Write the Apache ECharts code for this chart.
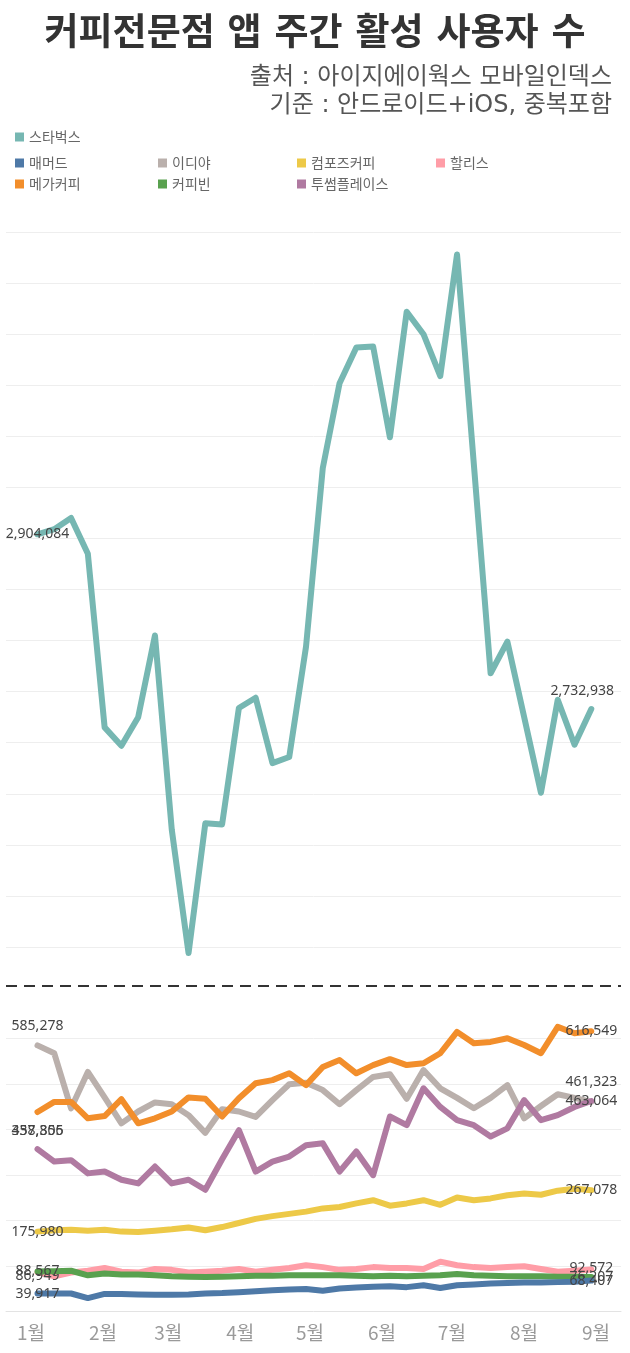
<!DOCTYPE html>
<html>
<head>
<meta charset="utf-8">
<script src="https://cdn.jsdelivr.net/npm/echarts@6/dist/echarts.min.js"></script>
<style>
  html, body { margin: 0; padding: 0; background: #ffffff; }
  #chart { width: 630px; height: 1353px; }
</style>
</head>
<body>
<div id="chart"></div>
<script>
// ---------------- data ----------------
const weeks = ['1/4','1/11','1/18','1/25','2/1','2/8','2/15','2/22','3/1','3/8','3/15','3/22','3/29',
  '4/5','4/12','4/19','4/26','5/3','5/10','5/17','5/24','5/31','6/7','6/14','6/21','6/28',
  '7/5','7/12','7/19','7/26','8/2','8/9','8/16','8/23'];
const months = ['1월','2월','3월','4월','5월','6월','7월','8월','9월','10월','11월','12월'];

const starbucks = [2904084, 2909000, 2920000, 2885000, 2715000, 2697000, 2725000, 2805000, 2615000, 2494000,
  2621000, 2620000, 2734000, 2744000, 2680000, 2686000, 2794000, 2969000, 3052000, 3087000,
  3088000, 2999000, 3122000, 3100000, 3059000, 3178000, 2973000, 2768000, 2799000, 2725000,
  2651000, 2742000, 2698000, 2732938];
const mammoth = [39917, 40000, 40000, 30000, 39000, 39000, 38000, 37000, 37000, 38000,
  40000, 41000, 43000, 45000, 47000, 49000, 50000, 46000, 51000, 53000,
  55000, 56000, 54000, 58000, 52000, 58000, 60000, 62000, 63000, 64000,
  64000, 65000, 66000, 68407];
const ediya = [585278, 568000, 447000, 527000, 471000, 414000, 440000, 460000, 456000, 432000,
  393000, 445000, 440000, 428000, 465000, 500000, 503000, 487000, 456000, 487000,
  516000, 522000, 468000, 531000, 491000, 470000, 447000, 470000, 498000, 425000,
  452000, 478000, 470000, 461323];
const compose = [175980, 179000, 180000, 178000, 180000, 176000, 175000, 178000, 181000, 185000,
  179000, 186000, 195000, 204000, 210000, 215000, 220000, 227000, 230000, 238000,
  245000, 233000, 238000, 245000, 235000, 251000, 245000, 249000, 256000, 260000,
  257000, 266000, 270000, 267078];
const hollys = [86949, 78000, 86000, 90000, 96000, 88000, 86000, 94000, 92000, 86000,
  88000, 90000, 94000, 88000, 92000, 96000, 102000, 98000, 92000, 94000,
  98000, 96000, 96000, 94000, 110000, 102000, 98000, 96000, 98000, 100000,
  94000, 88000, 90000, 92572];
const mega = [438855, 461000, 461000, 425000, 430000, 467000, 414000, 425000, 440000, 471000,
  468000, 429000, 469000, 502000, 509000, 524000, 498000, 538000, 553000, 524000,
  542000, 555000, 542000, 546000, 568000, 615000, 590000, 593000, 601000, 586000,
  568000, 626000, 612000, 616549];
const coffeebean = [88567, 89000, 90000, 80000, 84000, 82000, 82000, 80000, 78000, 77000,
  76000, 77000, 78000, 79000, 79000, 80000, 80000, 80000, 80000, 79000,
  78000, 79000, 78000, 79000, 80000, 83000, 80000, 79000, 78000, 78000,
  78000, 77000, 77000, 76207];
const twosome = [357306, 330000, 333000, 304000, 308000, 290000, 282000, 319000, 282000, 290000,
  268000, 335000, 399000, 308000, 330000, 341000, 366000, 370000, 308000, 352000,
  300000, 429000, 410000, 491000, 450000, 421000, 410000, 385000, 403000, 465000,
  421000, 432000, 450000, 463064];

const BREAK_VALUE = 2462000; // dashed axis-break line in the upper panel

// ---------------- styling ----------------
const C = {
  starbucks: '#76b7b2', mammoth: '#4e79a7', ediya: '#bab0ac', compose: '#edc948',
  hollys: '#ff9da7', mega: '#f28e2b', coffeebean: '#59a14f', twosome: '#b07aa1'
};
const NUM_FONT = 'Noto Sans';
const KR_FONT = '"Noto Sans CJK KR", "Noto Sans", sans-serif';
const WIDE_KR_FONT = '"DejaVu Sans", "Noto Sans CJK KR", sans-serif';

function lineSeries(name, values, color, panel, startOff, endOff, z) {
  const last = values.length - 1;
  const data = values.map((v, i) => {
    const item = { value: [i, v] };
    if (i === 0 && startOff) item.label = { show: true, offset: startOff };
    if (i === last && endOff) item.label = { show: true, offset: endOff };
    return item;
  });
  return {
    name: name, type: 'line', xAxisIndex: panel, yAxisIndex: panel,
    data: data, symbol: 'circle', symbolSize: 0, showSymbol: true,
    lineStyle: { color: color, width: 6, cap: 'round', join: 'round' },
    itemStyle: { color: color },
    label: {
      show: false, position: 'inside',
      formatter: p => p.value[1].toLocaleString('en-US'),
      color: '#444', fontSize: 14, fontFamily: NUM_FONT
    },
    emphasis: { disabled: true },
    z: z
  };
}

const T0 = Date.UTC(2021, 0, 1) - 10.75 * 86400000;
const T1 = Date.UTC(2021, 8, 1) + 10.75 * 86400000;
const XMIN = -1.877, XMAX = 34.77;

const legendBase = {
  icon: 'rect', itemWidth: 9, itemHeight: 9, itemGap: 7, orient: 'vertical',
  selectedMode: false,
  textStyle: { color: '#666', fontSize: 14, fontFamily: KR_FONT }
};

const sb = lineSeries('스타벅스', starbucks, C.starbucks, 0, [0, 0], [-9, -18], 2);
sb.markLine = {
  silent: true, symbol: ['none', 'none'], label: { show: false },
  lineStyle: { color: '#333', width: 2, type: [11, 7] },
  data: [{ yAxis: BREAK_VALUE }]
};

const option = {
  animation: false,
  useUTC: true,
  backgroundColor: '#ffffff',
  title: [
    { text: '커피전문점 앱 주간 활성 사용자 수', left: 'center', top: 12,
      textStyle: { fontSize: 37, fontWeight: 'bold', color: '#333', fontFamily: WIDE_KR_FONT } },
    { text: '출처 : 아이지에이웍스 모바일인덱스', right: 13, top: 61,
      textStyle: { fontSize: 24, fontWeight: 'normal', color: '#555', fontFamily: WIDE_KR_FONT } },
    { text: '기준 : 안드로이드+iOS, 중복포함', right: 13, top: 89,
      textStyle: { fontSize: 24, fontWeight: 'normal', color: '#555', fontFamily: WIDE_KR_FONT } }
  ],
  legend: [
    Object.assign({}, legendBase, { data: ['스타벅스'], left: 10, top: 125 }),
    Object.assign({}, legendBase, { data: ['매머드', '메가커피'], left: 10, top: 151 }),
    Object.assign({}, legendBase, { data: ['이디야', '커피빈'], left: 153, top: 151 }),
    Object.assign({}, legendBase, { data: ['컴포즈커피', '투썸플레이스'], left: 292, top: 151 }),
    Object.assign({}, legendBase, { data: ['할리스'], left: 431, top: 151 })
  ],
  grid: [
    { left: 6, right: 9, top: 181, height: 817 },
    { left: 6, right: 9, top: 993.2, height: 318.5 }
  ],
  xAxis: [
    { type: 'value', gridIndex: 0, min: XMIN, max: XMAX, show: false },
    { type: 'value', gridIndex: 1, min: XMIN, max: XMAX, position: 'bottom',
      axisLine: { show: true, onZero: false, lineStyle: { color: '#e3e3e3', width: 1 } },
      axisTick: { show: false }, axisLabel: { show: false }, splitLine: { show: false } },
    { type: 'time', gridIndex: 1, min: T0, max: T1, position: 'bottom', splitNumber: 8,
      axisLine: { show: false }, axisTick: { show: false }, splitLine: { show: false },
      axisLabel: {
        color: '#9a9a9a', fontSize: 19, fontFamily: KR_FONT, margin: 12,
        showMinLabel: true, showMaxLabel: true, hideOverlap: false,
        formatter: function (val) {
          const d = new Date(val);
          if (d.getUTCDate() !== 1 || d.getUTCHours() !== 0) return '';
          return months[d.getUTCMonth()];
        }
      } }
  ],
  yAxis: [
    { type: 'value', gridIndex: 0, min: 2450000, max: 3250000, interval: 50000,
      axisLine: { show: false }, axisTick: { show: false }, axisLabel: { show: false },
      splitLine: { show: true, showMinLine: false, showMaxLine: false, lineStyle: { color: '#eeeeee', width: 1 } } },
    { type: 'value', gridIndex: 1, min: 0, max: 700000, interval: 100000,
      axisLine: { show: false }, axisTick: { show: false }, axisLabel: { show: false },
      splitLine: { show: true, showMinLine: false, showMaxLine: false, lineStyle: { color: '#eeeeee', width: 1 } } }
  ],
  series: [
    sb,
    lineSeries('할리스', hollys, C.hollys, 1, [0, 4], [0, -2], 2),
    lineSeries('이디야', ediya, C.ediya, 1, [0, -19], [0, -20], 3),
    lineSeries('투썸플레이스', twosome, C.twosome, 1, [0, -18], [0, 0], 4),
    lineSeries('메가커피', mega, C.mega, 1, [0, 19], [0, 0], 5),
    lineSeries('컴포즈커피', compose, C.compose, 1, [0, 0], [0, 0], 6),
    lineSeries('커피빈', coffeebean, C.coffeebean, 1, [0, 0], [0, 0], 7),
    lineSeries('매머드', mammoth, C.mammoth, 1, [0, 0], [0, 0], 8)
  ]
};

const chart = echarts.init(document.getElementById('chart'), null, { renderer: 'canvas', width: 630, height: 1353 });
chart.setOption(option);
</script>
</body>
</html>
